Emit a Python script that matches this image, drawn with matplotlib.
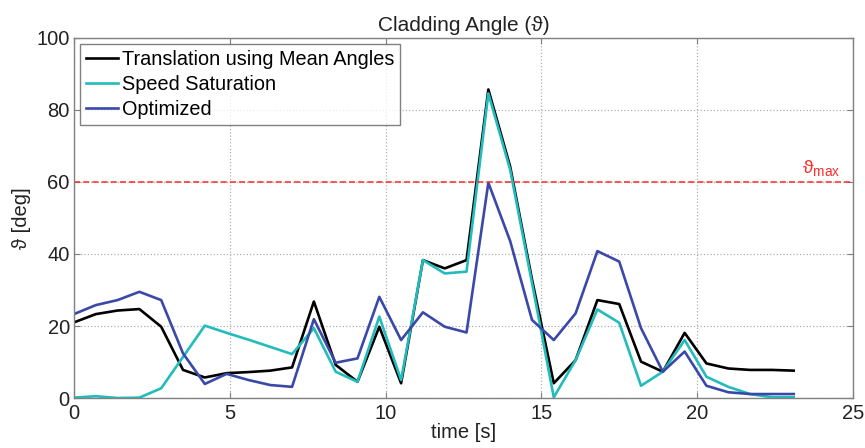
import numpy as np
import matplotlib
matplotlib.use("Agg")
import matplotlib.pyplot as plt

plt.rcParams['font.family'] = ['Liberation Sans', 'DejaVu Sans']
plt.rcParams['mathtext.fontset'] = 'custom'
plt.rcParams['mathtext.rm'] = 'Liberation Sans'

# sample times (every 0.7 s)
t = np.arange(34) * 0.7

# Translation using Mean Angles
mean_angles = [21.0, 23.3, 24.3, 24.7, 19.8, 7.8, 5.7, 6.9, 7.2, 7.6,
               8.5, 26.8, 9.2, 4.5, 19.8, 4.1, 38.3, 36.0, 38.3, 85.7,
               64.3, 33.0, 4.1, 10.5, 27.2, 26.1, 10.1, 7.3, 18.1, 9.6,
               8.2, 7.8, 7.8, 7.6]

# Speed Saturation
speed_sat = [0.1, 0.5, 0.0, 0.1, 2.7, 11.4, 20.1, 18.1, 16.2, 14.2,
             12.2, 19.4, 7.3, 4.5, 22.6, 5.0, 38.3, 34.6, 35.1, 84.6,
             63.4, 32.0, 0.2, 10.5, 24.6, 20.9, 3.4, 7.3, 16.1, 5.9,
             3.1, 1.1, 0.2, 0.2]

# Optimized
optimized = [23.3, 25.8, 27.2, 29.5, 27.2, 12.4, 3.9, 6.7, 5.0, 3.6,
             3.1, 21.9, 9.8, 11.0, 28.1, 16.1, 23.8, 19.8, 18.2, 59.8,
             43.6, 21.7, 16.1, 23.5, 40.8, 37.9, 19.4, 7.3, 12.9, 3.4,
             1.6, 1.1, 1.1, 1.1]

theta_max = 60

fig = plt.figure(figsize=(8.65, 4.48), dpi=100)
ax = fig.add_axes([0.0855, 0.1116, 0.9005, 0.8036])

ax.plot(t, mean_angles, color='black', lw=1.9, label='Translation using Mean Angles')
ax.plot(t, speed_sat, color='#22bcbc', lw=1.9, label='Speed Saturation')
ax.plot(t, optimized, color='#3a48a8', lw=1.9, label='Optimized')
ax.axhline(theta_max, color='#ff2a2a', ls=(0, (4, 2)), lw=1.1)
ax.text(24.0, theta_max + 0.8, r'ϑ$_{\rm max}$', color='#ff2a2a',
        fontsize=14, ha='center', va='bottom')

ax.set_xlim(0, 25)
ax.set_ylim(0, 100)
ax.set_xticks([0, 5, 10, 15, 20, 25])
ax.set_yticks([0, 20, 40, 60, 80, 100])
ax.grid(True, color='#b0b0b0', ls=':', lw=0.9)
ax.tick_params(direction='in', top=True, right=True, labelsize=14.5,
               color='#808080', labelcolor='#222222', length=4)
ax.tick_params(axis='x', pad=4)
ax.tick_params(axis='y', pad=3)
for s in ax.spines.values():
    s.set_color('#808080')
    s.set_linewidth(1.0)

ax.set_title('Cladding Angle (ϑ)', fontsize=15, color='#222222', pad=5)
ax.set_xlabel('time [s]', fontsize=14.5, color='#222222', labelpad=0)
ax.set_ylabel('ϑ [deg]', fontsize=14.5, color='#222222', labelpad=4)

leg = ax.legend(loc='upper left', fontsize=14.3, frameon=True, fancybox=False,
                handlelength=1.6, handletextpad=0.2, borderpad=0.3,
                labelspacing=0.3, borderaxespad=0.3)
leg.get_frame().set_edgecolor('#606060')
leg.get_frame().set_linewidth(1.0)

fig.savefig('out.png', dpi=100)
